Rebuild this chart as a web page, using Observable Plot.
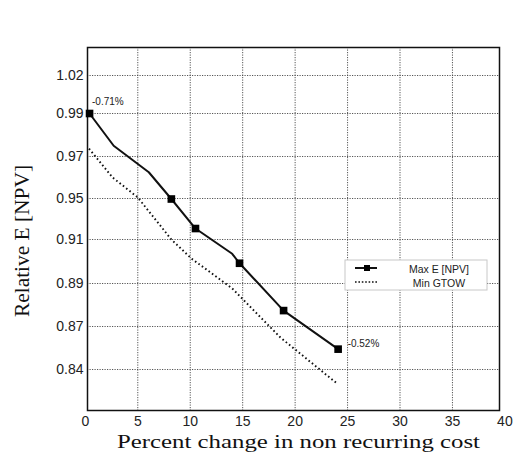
<!DOCTYPE html>
<html>
<head>
<meta charset="utf-8">
<script src="https://cdn.jsdelivr.net/npm/d3@7"></script>
<script src="https://cdn.jsdelivr.net/npm/@observablehq/plot@0.6"></script>
<style>
  html, body { margin: 0; padding: 0; background: #fff; }
  #chart { width: 513px; height: 452px; overflow: hidden; }
</style>
</head>
<body>
<div id="chart"></div>
<script>
// ---- data ----
const xTicks = [0, 5, 10, 15, 20, 25, 30, 35, 40];
const xGrid = [5, 10, 15, 20, 25, 30, 35];
const yTicks = [0.84, 0.87, 0.89, 0.91, 0.95, 0.97, 0.99, 1.02];

const maxX = [0.4, 2.7, 6.05, 8.2, 10.5, 14.0, 14.7, 18.9, 24.1];
const maxY = [0.99, 0.975, 0.9625, 0.9495, 0.9207, 0.9035, 0.8992, 0.8774, 0.8542];
const maxMarked = [true, false, false, true, true, false, true, true, true];

const minX = [0.35, 2.6, 5.0, 8.2, 10.1, 14.0, 18.6, 24.0];
const minY = [0.9737, 0.96, 0.9505, 0.91, 0.9014, 0.8877, 0.8623, 0.8302];

const seriesNames = ["Max E [NPV]", "Min GTOW"];
const notes = [{x: 0.4, y: 0.99, label: "-0.71%"}, {x: 24.1, y: 0.8542, label: "-0.52%"}];
const xTitle = "Percent change in non recurring cost";
const yTitle = "Relative E [NPV]";

const maxData = maxX.map((x, i) => ({x, y: maxY[i], marked: maxMarked[i]}));
const minData = minX.map((x, i) => ({x, y: minY[i]}));

const W = 513, H = 452;
const plot = Plot.plot({
  width: W, height: H,
  marginLeft: 87, marginRight: 14, marginTop: 47, marginBottom: 42,
  style: {fontFamily: "'Liberation Sans', Arial, sans-serif", background: "#fff", color: "#111"},
  x: {type: "linear", domain: [0, 40], range: [84.85, 504.4]},
  y: {type: "linear", domain: yTicks, range: [369, 326, 283, 239, 198, 156, 113, 75]},
  marks: [
    Plot.gridX(xGrid, {stroke: "#444", strokeOpacity: 0.9, strokeWidth: 1, strokeDasharray: "1.2,1.3"}),
    Plot.gridY(yTicks, {stroke: "#444", strokeOpacity: 0.9, strokeWidth: 1, strokeDasharray: "1.2,1.3"}),
    Plot.axisX(xTicks, {tickSize: 0, tickPadding: 6, fontSize: 14, label: null, fill: "#222"}),
    Plot.axisY(yTicks, {tickSize: 0, tickPadding: 4, fontSize: 14, label: null, fill: "#222", tickFormat: d => d.toFixed(2)}),
    Plot.frame({stroke: "#111", strokeWidth: 1.5}),
    Plot.line(minData, {x: "x", y: "y", stroke: "#111", strokeWidth: 1.9, strokeDasharray: "1.6,2.6", strokeLinecap: "butt"}),
    Plot.line(maxData, {x: "x", y: "y", stroke: "#111", strokeWidth: 2}),
    Plot.dot(maxData.filter(d => d.marked), {x: "x", y: "y", symbol: "square", fill: "#000", r: 4.3})
  ]
});

// annotations (offsets differ per note)
const svg = d3.select(plot);
const xs = plot.scale("x"), ys = plot.scale("y");
const noteOffsets = [[3, -12], [10, -5]];
notes.forEach((n, i) => {
  svg.append("text")
    .attr("x", xs.apply(n.x) + noteOffsets[i][0])
    .attr("y", ys.apply(n.y) + noteOffsets[i][1])
    .attr("dy", "0.35em")
    .attr("text-anchor", "start")
    .attr("font-size", 10)
    .attr("fill", "#222")
    .attr("font-family", "'Liberation Sans', Arial, sans-serif")
    .text(n.label);
});

// axis titles (serif)
svg.append("text")
  .attr("x", 298.5).attr("y", 447.5)
  .attr("text-anchor", "middle")
  .attr("font-family", "'Liberation Serif', 'Times New Roman', serif")
  .attr("font-size", 18)
  .attr("fill", "#111")
  .attr("textLength", 363).attr("lengthAdjust", "spacingAndGlyphs")
  .text(xTitle);
svg.append("text")
  .attr("transform", "translate(29,241) rotate(-90)")
  .attr("text-anchor", "middle")
  .attr("font-family", "'Liberation Serif', 'Times New Roman', serif")
  .attr("font-size", 20)
  .attr("fill", "#111")
  .attr("textLength", 152).attr("lengthAdjust", "spacingAndGlyphs")
  .text(yTitle);

// legend
const lg = svg.append("g").attr("transform", "translate(345,260)");
lg.append("rect").attr("width", 142).attr("height", 30).attr("fill", "#fff").attr("stroke", "#c8c8c8").attr("stroke-width", 1);
lg.append("line").attr("x1", 10).attr("x2", 32).attr("y1", 8).attr("y2", 8).attr("stroke", "#111").attr("stroke-width", 2);
lg.append("rect").attr("x", 19).attr("y", 5).attr("width", 6).attr("height", 6).attr("fill", "#000");
lg.append("line").attr("x1", 10).attr("x2", 32).attr("y1", 22).attr("y2", 22).attr("stroke", "#111").attr("stroke-width", 1.6).attr("stroke-dasharray", "1.6,1.8");
[[seriesNames[0], 9], [seriesNames[1], 23]].forEach(([t, y]) => {
  lg.append("text").attr("x", 94).attr("y", y).attr("dy", "0.35em")
    .attr("text-anchor", "middle").attr("font-size", 10.5).attr("fill", "#222")
    .attr("font-family", "'Liberation Sans', Arial, sans-serif").text(t);
});

document.getElementById("chart").appendChild(plot);
</script>
</body>
</html>
